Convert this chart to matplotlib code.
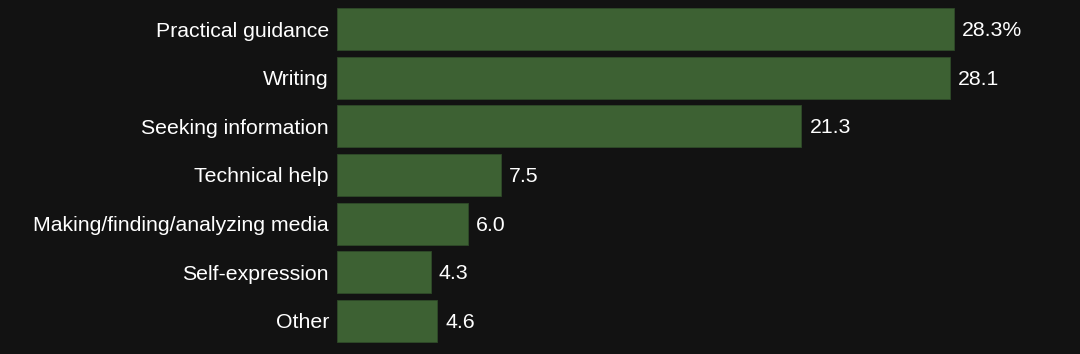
import matplotlib
matplotlib.use("Agg")
import matplotlib.pyplot as plt

categories = ["Practical guidance", "Writing", "Seeking information", "Technical help",
              "Making/finding/analyzing media", "Self-expression", "Other"]
values = [28.3, 28.1, 21.3, 7.5, 6.0, 4.3, 4.6]
value_labels = ["28.3%", "28.1", "21.3", "7.5", "6.0", "4.3", "4.6"]

BG = "#121212"
BAR = "#3d6133"
W, H = 1080, 354
fig = plt.figure(figsize=(W / 100, H / 100), dpi=100, facecolor=BG)
ax_left = 337 / W
ax = fig.add_axes([ax_left, (H - 345.3) / H, 1 - ax_left, (345.3 - 4.67) / H])
ax.set_facecolor(BG)

y = list(range(len(categories)))
ax.barh(y, values, height=0.865, color=BAR, edgecolor="#2f4a28", linewidth=0.6)
ax.set_xlim(0, (W - 337) / 21.8)
ax.set_ylim(len(categories) - 0.5, -0.5)
for yi, v, lab in zip(y, values, value_labels):
    ax.text(v + 0.37, yi + 0.03, lab, va="center", ha="left", color="white",
            fontsize=15.3, family="Liberation Sans")
ax.set_yticks(y)
ax.set_yticklabels(categories, color="white", fontsize=15.3, family="Liberation Sans")
for t in ax.get_yticklabels():
    t.set_y(t.get_position()[1])
ax.tick_params(axis="y", length=0, pad=5.8)
ax.set_xticks([])
for s in ax.spines.values():
    s.set_visible(False)

fig.savefig("out.png", dpi=100, facecolor=BG)
